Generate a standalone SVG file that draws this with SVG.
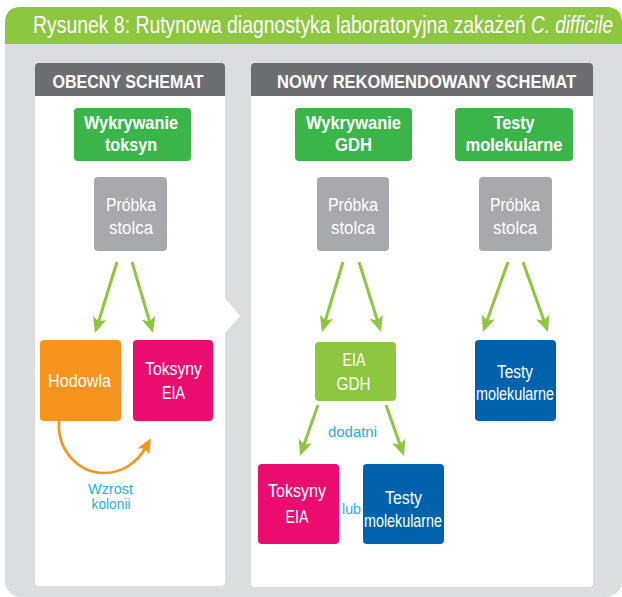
<svg xmlns="http://www.w3.org/2000/svg" width="622" height="597" viewBox="0 0 622 597">
<defs>
<style>
text{font-family:"Liberation Sans",Arial,sans-serif;fill:#fff;text-anchor:middle}
.t{font-size:18px}
.b{font-weight:bold}
.s{font-size:14.5px;fill:#1cb0e8}
.hd{font-size:19px;font-weight:bold}
.ttl{font-size:24px;text-anchor:start}
.a{stroke:#8dc63f;stroke-width:3;fill:none}
.o{stroke:#f7941d;stroke-width:2.6;fill:none}
</style>
<marker id="ag" markerUnits="userSpaceOnUse" markerWidth="17" markerHeight="15" refX="6" refY="7" orient="auto" viewBox="0 0 17 15">
<path d="M0,0 L16,7 L0,14 L4,7 Z" fill="#8dc63f"/>
</marker>
<marker id="ao" markerUnits="userSpaceOnUse" markerWidth="16" markerHeight="14" refX="5" refY="6.5" orient="auto" viewBox="0 0 16 14">
<path d="M0,0 L15,6.5 L0,13 L3,6.5 Z" fill="#f7941d"/>
</marker>
</defs>

<g id="frame">
<rect x="5" y="7" width="617" height="590" rx="16" fill="#dcdddf"/>
<path d="M5,44 V23 Q5,7 21,7 H606 Q622,7 622,23 V44 Z" fill="#8dc63f"/>
<text class="ttl" transform="translate(33,33) scale(0.8087,1)">Rysunek 8: Rutynowa diagnostyka laboratoryjna zakażeń</text>
<text class="ttl" transform="translate(531,33) scale(0.788,1)" font-style="italic">C. difficile</text>
</g>

<g id="panel-obecny">
<path d="M35,96 H225 V298 L240,316 L225,333 V582 Q225,586 221,586 H39 Q35,586 35,582 Z" fill="#fff"/>
<path d="M35,96 V67 Q35,63 39,63 H221 Q225,63 225,67 V96 Z" fill="#6d6e71"/>
<text class="hd" x="128" y="88" textLength="151" lengthAdjust="spacingAndGlyphs">OBECNY SCHEMAT</text>
</g>

<g id="panel-nowy">
<path d="M251,96 H593 V583 Q593,587 589,587 H255 Q251,587 251,583 Z" fill="#fff"/>
<path d="M251,96 V67 Q251,63 255,63 H589 Q593,63 593,67 V96 Z" fill="#6d6e71"/>
<text class="hd" x="426.5" y="88" textLength="299" lengthAdjust="spacingAndGlyphs">NOWY REKOMENDOWANY SCHEMAT</text>
</g>

<g id="wykrywanie-toksyn">
<rect x="74" y="108" width="117" height="53" rx="4" fill="#39b54a"/>
<text class="t b" x="131" y="129" textLength="94" lengthAdjust="spacingAndGlyphs">Wykrywanie</text>
<text class="t b" x="131" y="151" textLength="52" lengthAdjust="spacingAndGlyphs">toksyn</text>
</g>
<g id="wykrywanie-gdh">
<rect x="295" y="108" width="117" height="53" rx="4" fill="#39b54a"/>
<text class="t b" x="353.5" y="129" textLength="95" lengthAdjust="spacingAndGlyphs">Wykrywanie</text>
<text class="t b" x="353.5" y="151" textLength="37" lengthAdjust="spacingAndGlyphs">GDH</text>
</g>
<g id="testy-molekularne-head">
<rect x="455" y="108" width="118" height="53" rx="4" fill="#39b54a"/>
<text class="t b" x="514" y="129" textLength="41" lengthAdjust="spacingAndGlyphs">Testy</text>
<text class="t b" x="514" y="151" textLength="97" lengthAdjust="spacingAndGlyphs">molekularne</text>
</g>

<g id="probka-1">
<rect x="94" y="177" width="73" height="74" rx="4" fill="#a7a9ac"/>
<text class="t" x="131" y="211" textLength="50" lengthAdjust="spacingAndGlyphs">Próbka</text>
<text class="t" x="131" y="234" textLength="44" lengthAdjust="spacingAndGlyphs">stolca</text>
</g>
<g id="probka-2">
<rect x="317" y="177" width="72" height="74" rx="4" fill="#a7a9ac"/>
<text class="t" x="353" y="211" textLength="50" lengthAdjust="spacingAndGlyphs">Próbka</text>
<text class="t" x="353" y="234" textLength="44" lengthAdjust="spacingAndGlyphs">stolca</text>
</g>
<g id="probka-3">
<rect x="479" y="177" width="73" height="74" rx="4" fill="#a7a9ac"/>
<text class="t" x="515" y="211" textLength="50" lengthAdjust="spacingAndGlyphs">Próbka</text>
<text class="t" x="515" y="234" textLength="44" lengthAdjust="spacingAndGlyphs">stolca</text>
</g>

<g id="hodowla">
<rect x="40" y="340" width="81" height="81" rx="4" fill="#f7941d"/>
<text class="t" x="79.5" y="387" textLength="63" lengthAdjust="spacingAndGlyphs">Hodowla</text>
</g>
<g id="toksyny-eia-1">
<rect x="133" y="340" width="80" height="81" rx="4" fill="#ec0b6e"/>
<text class="t" x="173.5" y="375" textLength="57" lengthAdjust="spacingAndGlyphs">Toksyny</text>
<text class="t" x="173.5" y="399" textLength="23" lengthAdjust="spacingAndGlyphs">EIA</text>
</g>
<g id="eia-gdh">
<rect x="315" y="342" width="81" height="59" rx="4" fill="#8dc63f"/>
<text class="t" x="354" y="366" textLength="23" lengthAdjust="spacingAndGlyphs">EIA</text>
<text class="t" x="353.5" y="390" textLength="34" lengthAdjust="spacingAndGlyphs">GDH</text>
</g>
<g id="testy-molekularne-1">
<rect x="475" y="340" width="81" height="81" rx="4" fill="#0061ad"/>
<text class="t" x="515" y="378" textLength="36" lengthAdjust="spacingAndGlyphs">Testy</text>
<text class="t" x="515" y="400" font-size="16" textLength="78" lengthAdjust="spacingAndGlyphs">molekularne</text>
</g>
<g id="toksyny-eia-2">
<rect x="258" y="464" width="81" height="80" rx="4" fill="#ec0b6e"/>
<text class="t" x="297" y="497" textLength="58" lengthAdjust="spacingAndGlyphs">Toksyny</text>
<text class="t" x="297" y="523" textLength="23" lengthAdjust="spacingAndGlyphs">EIA</text>
</g>
<g id="testy-molekularne-2">
<rect x="363" y="464" width="81" height="80" rx="4" fill="#0061ad"/>
<text class="t" x="403.5" y="504" textLength="37" lengthAdjust="spacingAndGlyphs">Testy</text>
<text class="t" x="403" y="527" font-size="16" textLength="78" lengthAdjust="spacingAndGlyphs">molekularne</text>
</g>

<g id="connectors">
<line class="a" x1="117" y1="262" x2="97.96" y2="323.45" marker-end="url(#ag)"/>
<line class="a" x1="132" y1="262" x2="150.16" y2="323.41" marker-end="url(#ag)"/>
<line class="a" x1="343" y1="262" x2="324.87" y2="322.42" marker-end="url(#ag)"/>
<line class="a" x1="359" y1="262" x2="378" y2="322.46" marker-end="url(#ag)"/>
<line class="a" x1="508" y1="262" x2="486.36" y2="322.58" marker-end="url(#ag)"/>
<line class="a" x1="523" y1="262" x2="544.64" y2="322.58" marker-end="url(#ag)"/>
<line class="a" x1="318" y1="405" x2="303.33" y2="446.57" marker-end="url(#ag)"/>
<line class="a" x1="386" y1="405" x2="400.67" y2="446.57" marker-end="url(#ag)"/>
<path class="o" d="M59,421 C57,452 80,473 104,473 C122,473 137,463 146,447" marker-end="url(#ao)"/>
<text class="s" x="110.5" y="494" textLength="45" lengthAdjust="spacingAndGlyphs">Wzrost</text>
<text class="s" x="111" y="508.5" textLength="39" lengthAdjust="spacingAndGlyphs">kolonii</text>
<text class="s" x="352.5" y="437" textLength="49" lengthAdjust="spacingAndGlyphs">dodatni</text>
<text class="s" x="351.5" y="514" textLength="19" lengthAdjust="spacingAndGlyphs">lub</text>
</g>
</svg>
